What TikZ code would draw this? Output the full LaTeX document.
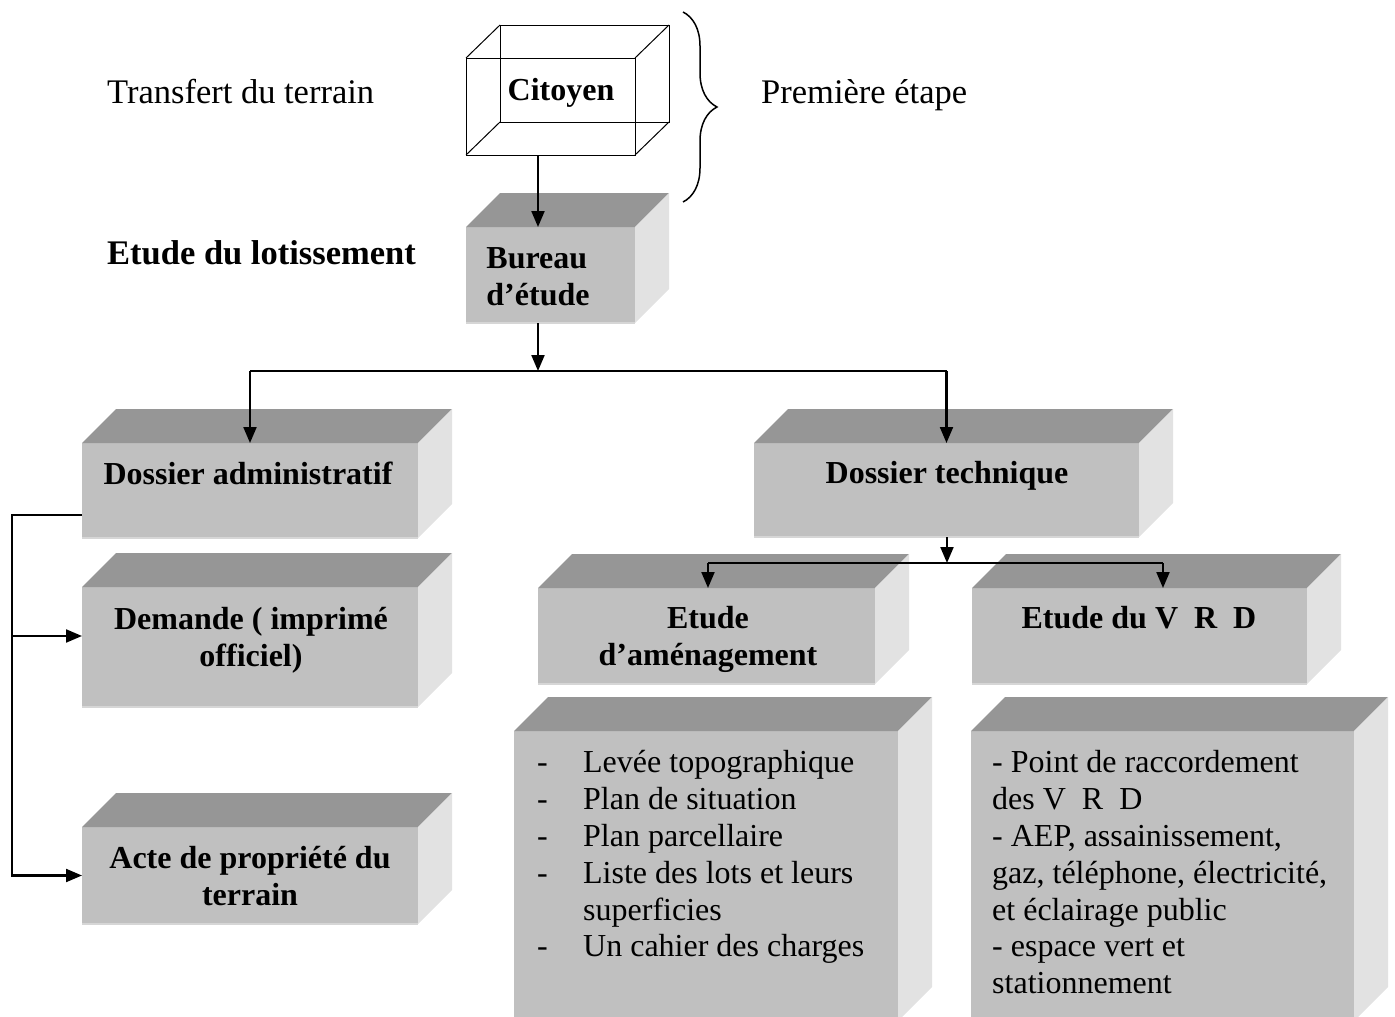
\documentclass[tikz,border=0pt]{standalone}
\usepackage{fontspec}
\setmainfont{Liberation Serif}
\usetikzlibrary{arrows.meta,decorations.pathreplacing,calc}

\definecolor{topgray}{RGB}{150,150,150}
\definecolor{frontgray}{RGB}{192,192,192}
\definecolor{sidegray}{RGB}{226,226,226}
\definecolor{rimgray}{RGB}{214,214,214}

\tikzset{
  face/.style={fill=frontgray, draw=none, inner sep=0pt, outer sep=0pt},
  wire/.style={draw=black, line width=1pt, inner sep=0pt, outer sep=0pt},
  biglabel/.style={font=\fontsize{34.5}{40}\selectfont, inner sep=0pt, anchor=west},
  boxtext/.style={font=\fontsize{32}{37}\selectfont\bfseries, align=center, inner sep=0pt},
  listtext/.style={font=\fontsize{32}{36.8}\selectfont, inner sep=0pt, anchor=north west},
  link/.style={line width=2.1pt},
  arr/.style={line width=2.1pt, -{Triangle[length=16pt,width=13pt]}},
}

% 3D slab: front face node #1 with corners (#2,#3)-(#4,#5), plus top and side faces
\newcommand\boite[5]{%
  \node[face, minimum width={(#4-#2)*1pt}, minimum height={(#5-#3)*1pt}] (#1) at ({(#2+#4)/2},{(#3+#5)/2}) {};
  \fill[topgray] (#1.north west) -- ++(34,-34) -- ++({#4-#2},0) -- (#1.north east) -- cycle;
  \fill[sidegray] (#1.north east) -- ++(34,-34) -- ++(0,{#5-#3}) -- (#1.south east) -- cycle;
  \draw[rimgray, line width=1.5pt] (#1.south west) -- (#1.south east);
}

\begin{document}
\begin{tikzpicture}[x=1pt, y=-1pt]
\useasboundingbox (0,0) rectangle (1395,1017);
\clip (0,0) rectangle (1395,1017);

% side labels
\node[biglabel] (ltransfert) at (107,92) {Transfert du terrain};
\node[biglabel] (lpremiere) at (761,95) {Première étape};
\node[biglabel, font=\fontsize{34.5}{40}\selectfont\bfseries] (letude) at (107,253) {Etude du lotissement};

% wireframe box of the citizen
\node[wire, minimum width=169pt, minimum height=97pt] (cit) at (550.5,106.5) {};
\draw[line width=1pt] (cit.north west) ++(34,-33) rectangle ++(169,97);
\foreach \a in {north west, north east, south west, south east}
  \draw[line width=1pt] (cit.\a) -- ++(34,-33);
\node[boxtext] (cittxt) at (561,93) {Citoyen};

% brace of the first step
\coordinate (bracetop) at (683,12);
\coordinate (bracebot) at (683,202);
\draw[decorate, decoration={brace, amplitude=34pt}, line width=1.5pt] (bracetop) -- (bracebot);

% slabs
\boite{bur}{466}{227}{635}{323}
\boite{dadm}{82}{443}{418}{538}
\boite{dtech}{754}{443}{1139}{537}
\boite{dem}{82}{587}{418}{707}
\boite{acte}{82}{827}{418}{924}
\boite{eam}{538}{588}{875}{684}
\boite{evrd}{972}{588}{1307}{684}
\boite{lam}{514}{731}{898}{1021}
\boite{lvrd}{971}{731}{1354}{1021}

% slab texts
\node[boxtext, align=left] (burtxt) at (538,277) {Bureau\\d’étude};
\node[boxtext] (dadmtxt) at (248,473) {Dossier administratif};
\node[boxtext] (dtechtxt) at (947,476) {Dossier technique};
\node[boxtext] (demtxt) at (251,640) {Demande ( imprimé\\officiel)};
\node[boxtext] (actetxt) at (250,876) {Acte de propriété du\\terrain};
\node[boxtext] (eamtxt) at (708,639) {Etude\\d’aménagement};
\node[boxtext] (evrdtxt) at (1139,618) {Etude du V\enspace R\enspace D};

\node[listtext] (lamtxt) at (537,747) {%
  \begin{tabular}{@{}p{46pt}@{}l@{}}
  - & Levée topographique\\
  - & Plan de situation\\
  - & Plan parcellaire\\
  - & Liste des lots et leurs\\
    & superficies\\
  - & Un cahier des charges
  \end{tabular}};
\node[listtext] (lvrdtxt) at (992,747) {%
  \begin{tabular}{@{}l@{}}
  - Point de raccordement\\
  des V\enspace R\enspace D\\
  - AEP, assainissement,\\
  gaz, téléphone, électricité,\\
  et éclairage public\\
  - espace vert et\\
  stationnement
  \end{tabular}};

% connectors
\draw[arr] (cit.south -| burtxt) -- (bur.north -| burtxt);
\coordinate (j1) at (538,371);
\draw[arr] (bur.south -| burtxt) -- (j1);
\draw[link] (dadm.north |- j1) -- (dtech.north |- j1);
\draw[arr] (dadm.north |- j1) -- (dadm.north);
\draw[arr] (dtech.north |- j1) -- (dtech.north);

\coordinate (j2) at (947,563);
\coordinate (j2l) at (708,563);
\coordinate (j2r) at (1163,563);
\draw[arr] (dtech.south -| j2) -- (j2);
\draw[link] (j2l) -- (j2r);
\draw[arr] (j2l) -- (j2l |- eam.north);
\draw[arr] (j2r) -- (j2r |- evrd.north);

\coordinate (lft) at (12,515);
\coordinate (bdem) at (12,636);
\draw[arr] (dadm.west |- lft) -- (lft) |- (acte.west);
\draw[arr] (bdem) -- (bdem -| dem.west);
\end{tikzpicture}
\end{document}
